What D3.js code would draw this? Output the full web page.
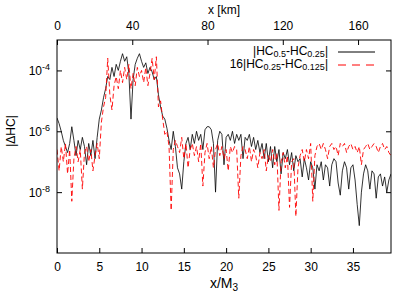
<!DOCTYPE html>
<html>
<head>
<meta charset="utf-8">
<script src="https://cdn.jsdelivr.net/npm/d3@7"></script>
<style>
  body { margin: 0; background: #fff; }
  svg { font-family: "Liberation Sans", Arial, sans-serif; }
</style>
</head>
<body>
<div id="chart"></div>
<script>
// sample grid in x/M3 (step 0.25)
var xs = d3.range(0, 39.5 + 1e-9, 0.25);

// log10 |HC0.5 - HC0.25|, one row per unit of x/M3
var black = [
  -5.56, -5.75, -6.0, -6.3,
  -6.5, -6.7, -6.4, -5.85,
  -6.3, -6.8, -6.3, -6.6,
  -6.2, -6.5, -7.1, -6.4,
  -6.8, -6.3, -6.9, -6.2,
  -5.6, -5.3, -4.9, -4.6,
  -4.2, -4.3, -3.9, -4.2,
  -3.8, -4.0, -3.7, -3.45,
  -3.7, -3.55, -4.1, -5.6,
  -4.3, -3.8, -3.6, -3.45,
  -3.7, -3.9, -3.75, -4.1,
  -3.9, -4.05, -4.3, -4.2,
  -4.8, -5.2, -5.5, -5.6,
  -5.9, -6.3, -6.6, -6.0,
  -6.5, -7.2, -7.4, -7.9,
  -7.0, -6.4, -6.2, -6.6,
  -6.1, -6.4, -6.0, -6.3,
  -6.1, -6.6, -5.95, -5.85,
  -5.85, -5.95, -6.4, -8.0,
  -6.3, -6.0, -6.1, -7.1,
  -6.2, -6.1, -6.3, -6.0,
  -6.4, -6.1, -6.3, -6.1,
  -6.9, -6.2, -6.3, -6.1,
  -6.5, -6.2, -6.6, -6.3,
  -6.7, -6.4, -6.9, -6.4,
  -7.0, -6.5, -7.2, -6.5,
  -7.0, -6.6, -7.4, -6.7,
  -6.9, -6.6, -7.1, -6.7,
  -7.3, -6.8, -7.0, -6.9,
  -7.5, -6.9, -7.2, -7.6,
  -7.0, -7.2, -7.9, -7.1,
  -7.3, -7.0, -7.6, -7.1,
  -7.2, -7.8, -7.1, -6.9,
  -7.0, -7.7, -8.1, -7.3,
  -7.0, -7.2, -7.9, -7.2,
  -7.1, -7.6, -8.4, -9.1,
  -8.0, -7.4, -7.1, -7.3,
  -7.9, -7.3, -7.4, -8.2,
  -7.5, -7.4, -7.8, -7.5,
  -8.0, -7.6, -7.4
];

// log10 16|HC0.25 - HC0.125|
var red = [
  -6.6, -7.3, -6.5, -7.0,
  -6.4, -7.4, -6.6, -8.3,
  -6.9, -6.5, -7.0, -6.6,
  -7.9, -6.7, -6.5, -7.0,
  -6.6, -7.3, -6.8, -6.4,
  -6.9, -5.7, -5.2, -4.9,
  -3.6, -4.8, -5.3, -4.5,
  -4.2, -4.6, -4.0, -4.4,
  -3.9, -4.3, -3.8, -4.6,
  -4.1, -4.5, -3.9, -4.2,
  -4.0, -4.4, -3.9, -4.5,
  -4.1, -3.6, -4.3, -3.55,
  -5.2, -5.0, -5.6, -6.1,
  -6.0, -6.5, -8.6, -6.6,
  -6.3, -6.5, -6.7, -6.2,
  -6.9, -6.4, -7.2, -6.6,
  -6.4, -6.8, -6.5, -7.0,
  -6.4, -7.8, -6.7, -6.4,
  -6.9, -6.5, -7.2, -6.6,
  -6.4, -6.8, -6.5, -6.9,
  -6.6, -7.3, -6.5, -6.7,
  -6.5, -6.6, -8.2, -6.8,
  -6.5, -6.6, -6.9, -6.5,
  -7.0, -6.6, -6.8, -7.2,
  -6.7, -6.9, -6.6, -7.3,
  -6.8, -7.0, -6.6, -7.1,
  -6.7, -8.6, -7.0, -6.7,
  -7.2, -6.8, -8.5, -7.0,
  -6.9, -8.8, -7.2, -6.8,
  -6.6, -7.0, -6.6, -6.9,
  -6.4, -8.3, -6.8, -6.5,
  -6.4, -6.6, -6.4, -6.6,
  -6.9, -6.5, -6.4, -6.6,
  -6.5, -6.8, -6.4, -6.5,
  -6.4, -6.7, -6.5, -6.4,
  -6.6, -6.5, -6.7, -6.5,
  -7.1, -6.6, -6.5, -6.4,
  -6.6, -6.5, -6.4, -6.5,
  -6.7, -6.5, -6.4, -6.6,
  -6.5, -6.7, -6.8
];

var bottomTicks = [0, 5, 10, 15, 20, 25, 30, 35];
var topTicks = [0, 40, 80, 120, 160];
var yTicks = [-4, -6, -8];

var margin = {top: 40, right: 24, bottom: 43, left: 57},
    width = 415 - margin.left - margin.right,
    height = 296 - margin.top - margin.bottom;

var svg = d3.select("#chart")
  .append("svg")
    .attr("width", 415)
    .attr("height", 296)
  .append("g")
    .attr("transform", "translate(" + margin.left + "," + margin.top + ")");

var x = d3.scaleLinear().domain([0, 39.5]).range([0, width]);
var xkm = d3.scaleLinear().domain([0, 39.5 * 4.494]).range([0, width]);
var y = d3.scaleLog().domain([1e-10, 1e-3]).range([height, 0]);

svg.append("clipPath").attr("id", "clip")
  .append("rect").attr("width", width).attr("height", height);

function series(vals) {
  return vals.map(function(v, i) { return {x: xs[i], v: Math.pow(10, v)}; });
}

var line = d3.line()
  .x(function(d) { return x(d.x); })
  .y(function(d) { return y(d.v); });

var plot = svg.append("g").attr("clip-path", "url(#clip)");

plot.append("path")
  .datum(series(black))
  .attr("fill", "none")
  .attr("stroke", "#000")
  .attr("stroke-width", 0.8)
  .attr("d", line);

plot.append("path")
  .datum(series(red))
  .attr("fill", "none")
  .attr("stroke", "#ff0000")
  .attr("stroke-width", 0.9)
  .attr("stroke-dasharray", "5,3")
  .attr("d", line);

// axes, ticks inward
var fs = "12px";

var bx = svg.append("g")
  .attr("transform", "translate(0," + height + ")")
  .call(d3.axisBottom(x).tickValues(bottomTicks).tickSize(-5).tickPadding(9));
var tx = svg.append("g")
  .call(d3.axisTop(xkm).tickValues(topTicks).tickSize(-5).tickPadding(10));
var ly = svg.append("g")
  .call(d3.axisLeft(y).tickValues(yTicks.map(function(e) { return Math.pow(10, e); }))
    .tickSize(-5).tickFormat(""));
var ry = svg.append("g")
  .attr("transform", "translate(" + width + ",0)")
  .call(d3.axisRight(y).tickValues(yTicks.map(function(e) { return Math.pow(10, e); }))
    .tickSize(-5).tickFormat(""));

[bx, tx, ly, ry].forEach(function(g) {
  g.select(".domain").remove();
  g.selectAll("line").attr("stroke", "#000");
  g.selectAll("text").attr("font-size", fs).attr("fill", "#000")
    .attr("font-family", "Liberation Sans, Arial, sans-serif");
});

svg.append("rect")
  .attr("width", width).attr("height", height)
  .attr("fill", "none").attr("stroke", "#000").attr("stroke-width", 1);

// y tick labels 10^n
yTicks.forEach(function(e) {
  var t = svg.append("text")
    .attr("x", -7)
    .attr("y", y(Math.pow(10, e)) + 5)
    .attr("text-anchor", "end")
    .attr("font-size", fs);
  t.append("tspan").text("10");
  t.append("tspan").attr("dy", -5).attr("font-size", "9px").text(String(e));
});

// axis titles
svg.append("text")
  .attr("x", width / 2)
  .attr("y", height + 35)
  .attr("text-anchor", "middle")
  .attr("font-size", "14px")
  .call(function(t) {
    t.append("tspan").text("x/M");
    t.append("tspan").attr("dy", 3).attr("font-size", "10px").text("3");
  });

svg.append("text")
  .attr("x", width / 2)
  .attr("y", -26)
  .attr("text-anchor", "middle")
  .attr("font-size", fs)
  .text("x [km]");

svg.append("text")
  .attr("transform", "rotate(-90)")
  .attr("x", -91)
  .attr("y", -42)
  .attr("text-anchor", "middle")
  .attr("font-size", fs)
  .text("|\u0394HC|");

// legend
var legend = [
  {parts: [["|HC", 0], ["0.5", 1], ["-HC", 0], ["0.25", 1], ["|", 0]], color: "#000", dash: null},
  {parts: [["16|HC", 0], ["0.25", 1], ["-HC", 0], ["0.125", 1], ["|", 0]], color: "#ff0000", dash: "8,6"}
];

legend.forEach(function(d, i) {
  var yy = 12 + i * 13;
  var t = svg.append("text")
    .attr("x", 271)
    .attr("y", yy + 3)
    .attr("text-anchor", "end")
    .attr("font-size", "12px");
  var sub = 0;
  d.parts.forEach(function(p) {
    var dy = 0;
    if (p[1] && !sub) { dy = 2; sub = 1; }
    else if (!p[1] && sub) { dy = -2; sub = 0; }
    t.append("tspan").attr("dy", dy)
      .attr("font-size", p[1] ? "9px" : "12px")
      .text(p[0]);
  });
  svg.append("line")
    .attr("x1", 281).attr("x2", 318)
    .attr("y1", yy).attr("y2", yy)
    .attr("stroke", d.color)
    .attr("stroke-width", 1)
    .attr("stroke-dasharray", d.dash);
});
</script>
</body>
</html>
